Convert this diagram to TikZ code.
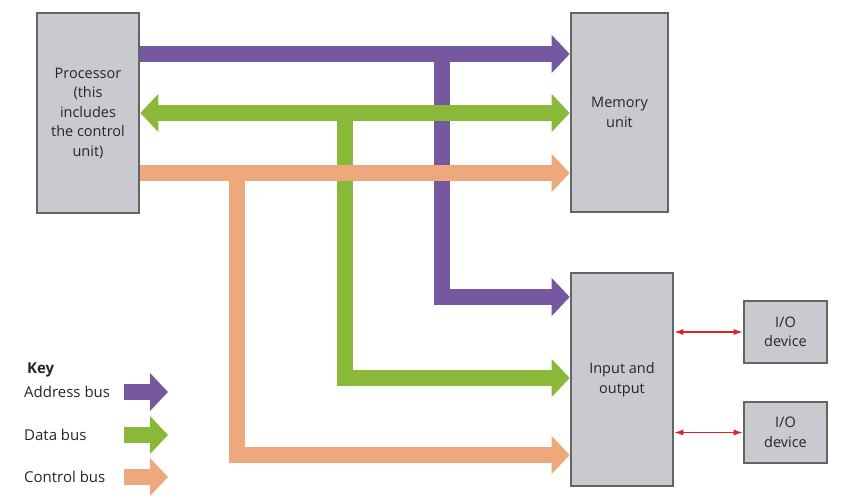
\documentclass[tikz,border=0pt]{standalone}
\usepackage{fontspec}
\setmainfont{Open Sans}
\usetikzlibrary{arrows.meta}
\definecolor{addrc}{RGB}{117,88,160}
\definecolor{datac}{RGB}{138,185,57}
\definecolor{ctrlc}{RGB}{237,168,124}
\definecolor{boxfill}{RGB}{200,202,205}
\definecolor{boxline}{RGB}{98,100,104}
\definecolor{linkred}{RGB}{220,35,35}
\begin{document}
\begin{tikzpicture}[x=1pt,y=-1pt,
  unitbox/.style={draw=boxline, line width=2.6pt, fill=boxfill, inner sep=0pt,
    align=center, text=black!85, font=\fontsize{14.5}{19.5}\selectfont},
  busline/.style={line width=16pt, line join=miter},
  bustip/.style={busline, -{Triangle[length=18pt,width=37pt]}},
  bustwo/.style={busline, {Triangle[length=18pt,width=37pt]}-{Triangle[length=18pt,width=37pt]}},
  keytext/.style={anchor=west, inner sep=0pt, text=black!85, font=\fontsize{15}{18}\selectfont},
  iolink/.style={draw=linkred, line width=1.1pt, {Latex[length=9pt,width=6pt]}-{Latex[length=9pt,width=6pt]}}
]
\useasboundingbox (0,0) rectangle (845,498);

% units
\node[unitbox, minimum width=102pt, minimum height=200pt] (proc) at (88,113)
  {Processor\\(this\\includes\\the control\\unit)};
\node[unitbox, minimum width=97pt, minimum height=199pt] (mem) at (619.5,112.5)
  {Memory\\unit};
\node[unitbox, minimum width=102pt, minimum height=213pt] (io) at (622,379.5)
  {Input and\\output};
\node[unitbox, minimum width=83pt, minimum height=62pt] (dev1) at (785.5,332)
  {I/O\\device};
\node[unitbox, minimum width=83pt, minimum height=61pt] (dev2) at (785.5,432.5)
  {I/O\\device};

% bus rows and branch points
\coordinate (arow) at (0,54);
\coordinate (drow) at (0,113);
\coordinate (crow) at (0,173);
\coordinate (abr) at (442,54);
\coordinate (abend) at (442,297);
\coordinate (dbr) at (345,113);
\coordinate (dbend) at (345,378);
\coordinate (cbr) at (237,173);
\coordinate (cbend) at (237,455);

% branches to input/output (drawn underneath the main rows)
\draw[bustip, addrc] (abr) -- (abend) -- (io.west |- abend);
\draw[bustip, datac] (dbr) -- (dbend) -- (io.west |- dbend);
\draw[bustip, ctrlc] (cbr) -- (cbend) -- (io.west |- cbend);

% main rows between processor and memory
\draw[bustip, addrc] (proc.east |- arow) -- (mem.west |- arow);
\draw[bustwo, datac] (proc.east |- drow) -- (mem.west |- drow);
\draw[bustip, ctrlc] (proc.east |- crow) -- (mem.west |- crow);

% links to devices
\draw[iolink] (io.east |- dev1) -- (dev1.west);
\draw[iolink] (io.east |- dev2) -- (dev2.west);

% key
\node[keytext, font=\fontsize{15}{18}\selectfont\bfseries] (keyhead) at (27,370) {Key};
\node[keytext] (keyaddr) at (24,392) {Address bus};
\node[keytext] (keydata) at (24,435) {Data bus};
\node[keytext] (keyctrl) at (24,477) {Control bus};
\coordinate (ka0) at (124,392); \coordinate (ka1) at (168,392);
\coordinate (kd0) at (124,435); \coordinate (kd1) at (168,435);
\coordinate (kc0) at (124,477); \coordinate (kc1) at (168,477);
\draw[bustip, addrc] (ka0) -- (ka1);
\draw[bustip, datac] (kd0) -- (kd1);
\draw[bustip, ctrlc] (kc0) -- (kc1);
\end{tikzpicture}
\end{document}
